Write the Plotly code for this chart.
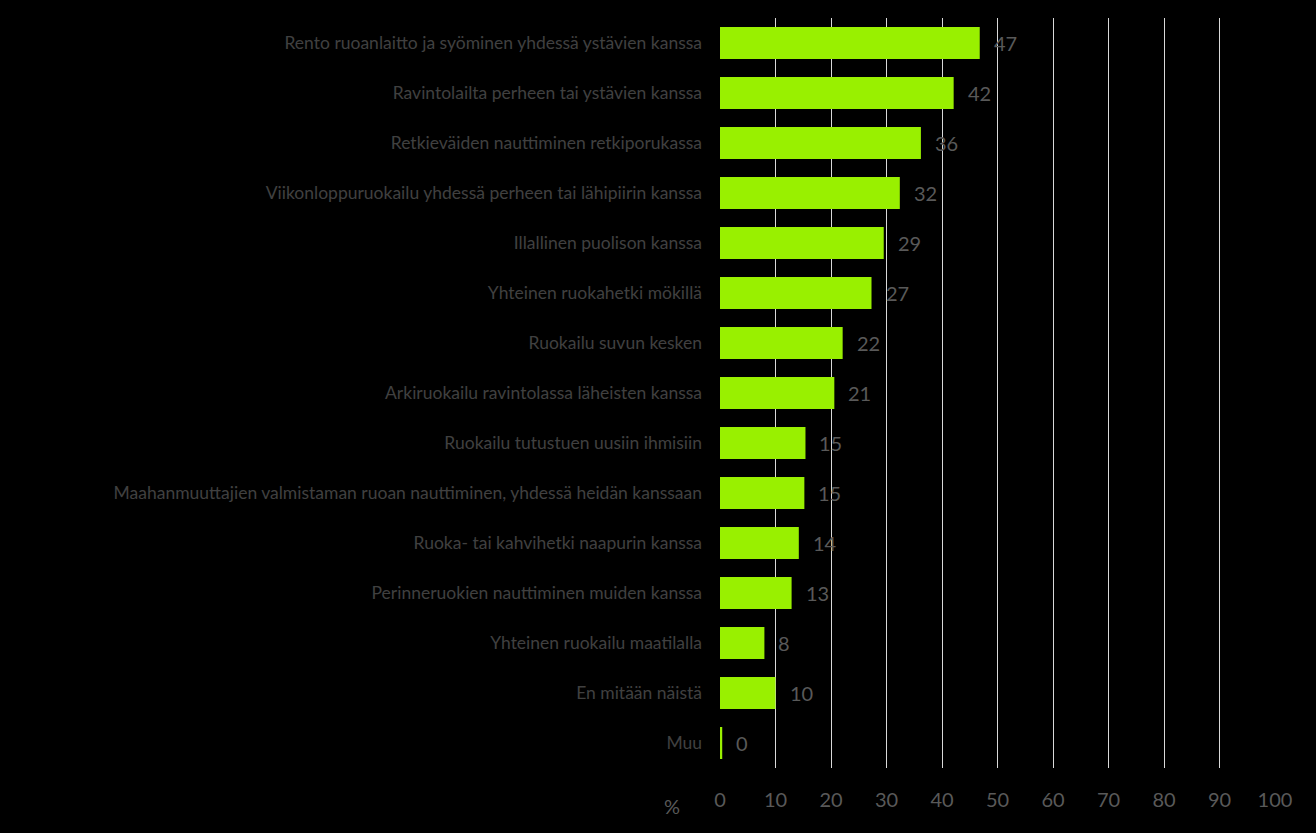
import plotly.graph_objects as go

categories = [
    "Rento ruoanlaitto ja syöminen yhdessä ystävien kanssa",
    "Ravintolailta perheen tai ystävien kanssa",
    "Retkieväiden nauttiminen retkiporukassa",
    "Viikonloppuruokailu yhdessä perheen tai lähipiirin kanssa",
    "Illallinen puolison kanssa",
    "Yhteinen ruokahetki mökillä",
    "Ruokailu suvun kesken",
    "Arkiruokailu ravintolassa läheisten kanssa",
    "Ruokailu tutustuen uusiin ihmisiin",
    "Maahanmuuttajien valmistaman ruoan nauttiminen, yhdessä heidän kanssaan",
    "Ruoka- tai kahvihetki naapurin kanssa",
    "Perinneruokien nauttiminen muiden kanssa",
    "Yhteinen ruokailu maatilalla",
    "En mitään näistä",
    "Muu",
]
values = [46.8, 42.1, 36.2, 32.4, 29.5, 27.3, 22.1, 20.6, 15.4, 15.2, 14.2, 12.9, 8.0, 10.0, 0.4]
labels = ["47", "42", "36", "32", "29", "27", "22", "21", "15", "15", "14", "13", "8", "10", "0"]
x_ticks = [0, 10, 20, 30, 40, 50, 60, 70, 80, 90, 100]

FONT = "Lato"

fig = go.Figure()
fig.add_trace(go.Bar(
    x=values, y=categories, orientation="h",
    marker=dict(color="#99F000", line=dict(width=0)),
    hoverinfo="skip",
))

for v, c, t in zip(values, categories, labels):
    fig.add_annotation(
        x=v, y=c, text=t, showarrow=False, xanchor="left", xshift=12,
        font=dict(family=FONT, size=20, color="#595959"),
    )

fig.add_annotation(
    x=0, y=0, xref="paper", yref="paper", text="%", showarrow=False,
    xanchor="center", yanchor="middle", xshift=-48, yshift=-38,
    font=dict(family=FONT, size=20, color="#595959"),
)

fig.update_layout(
    width=1316, height=833,
    paper_bgcolor="#000000", plot_bgcolor="#000000",
    margin=dict(l=720, r=41, t=18, b=65),
    bargap=0.36,
    showlegend=False,
    xaxis=dict(
        range=[0, 100], tickvals=x_ticks, ticktext=[str(v) for v in x_ticks],
        showgrid=True, gridcolor="#D9D9D9", gridwidth=1,
        zeroline=False, showline=False,
        tickfont=dict(family=FONT, size=20, color="#595959"),
        ticks="", ticklabelstandoff=18, fixedrange=True,
    ),
    yaxis=dict(
        categoryorder="array", categoryarray=categories, autorange="reversed",
        showgrid=False, zeroline=False, showline=False,
        tickfont=dict(family=FONT, size=17.5, color="#404040"),
        ticks="", ticklabelstandoff=17, fixedrange=True,
    ),
)

fig.write_html(
    "out.html",
    config={"displayModeBar": False},
    post_script="document.body.style.margin='0';document.body.style.background='#000';",
)
